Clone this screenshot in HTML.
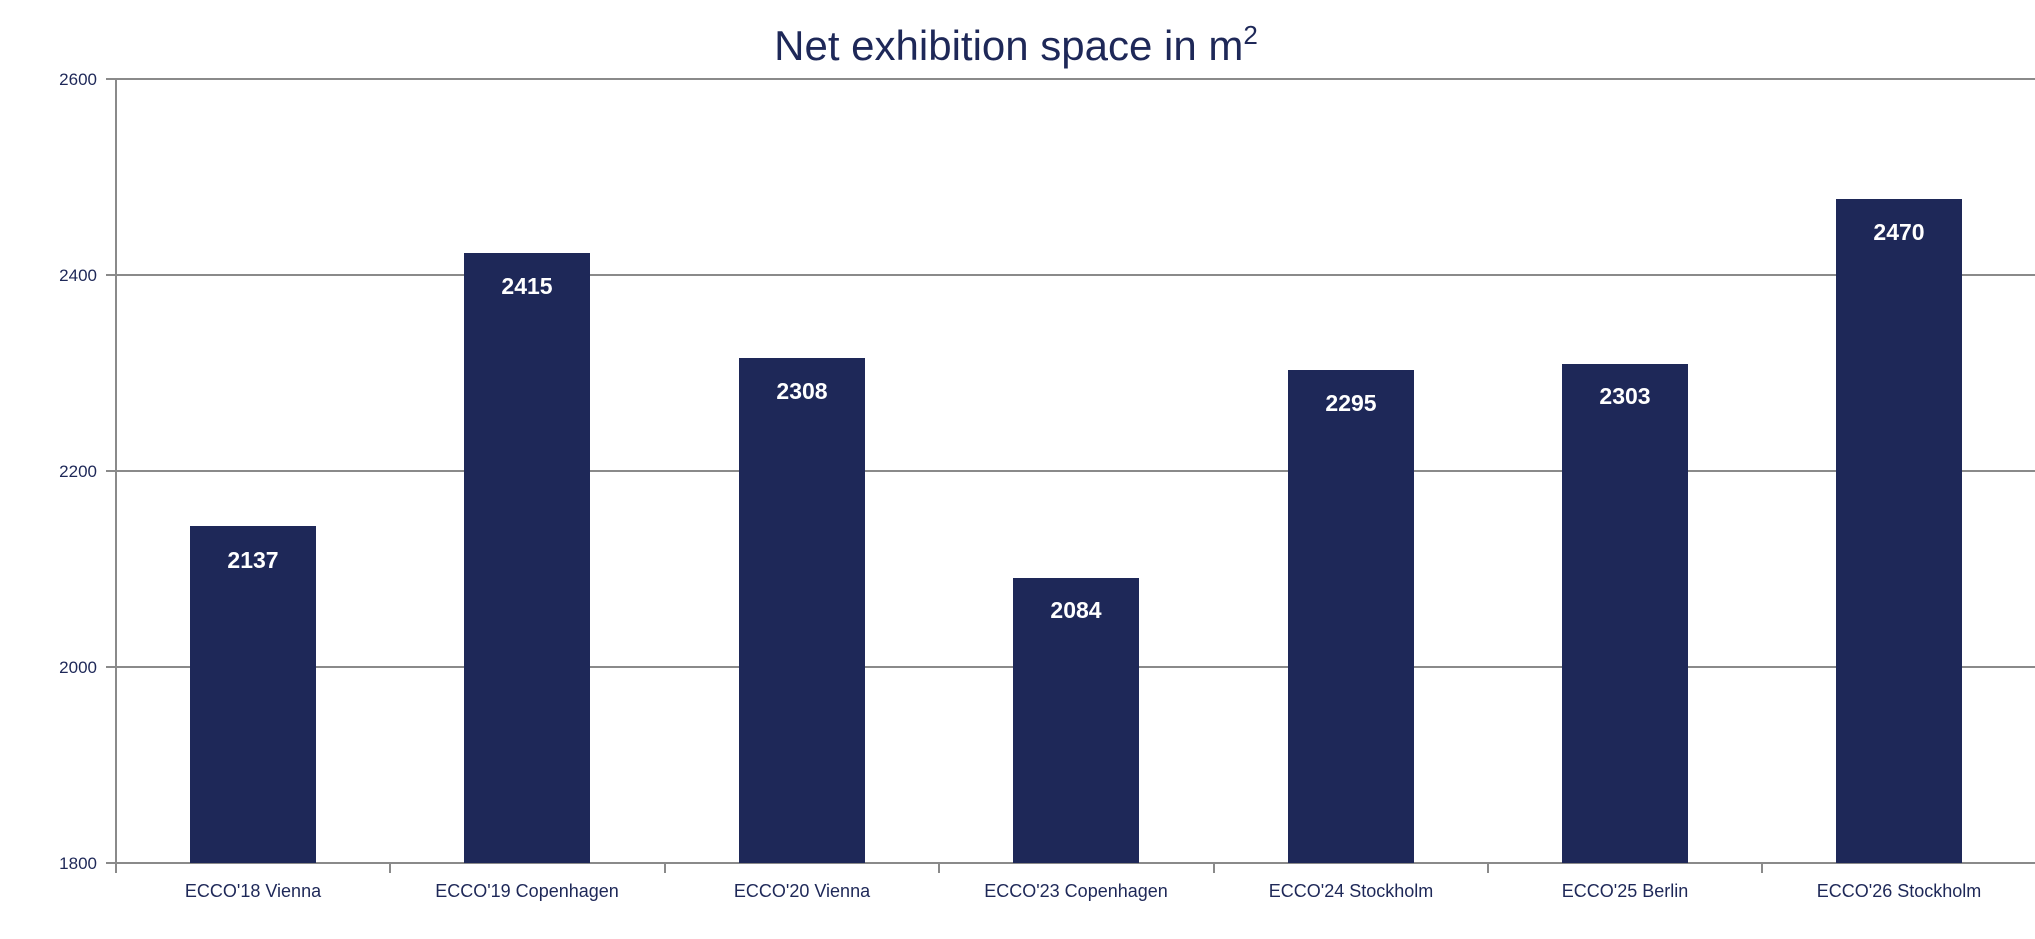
<!DOCTYPE html>
<html><head><meta charset="utf-8"><style>
html,body{margin:0;padding:0;background:#fff;}
svg{display:block;}
</style></head><body>
<svg width="2035" height="939" viewBox="0 0 2035 939" xmlns="http://www.w3.org/2000/svg" font-family="Liberation Sans, DejaVu Sans, sans-serif">
<rect width="2035" height="939" fill="#fff"/>
<text x="1016" y="60" text-anchor="middle" font-size="42" fill="#1e2858">Net exhibition space in m<tspan font-size="26" dy="-16">2</tspan></text>
<g stroke="#8a8a8a" stroke-width="2">
<line x1="106" y1="79" x2="2035" y2="79"/>
<line x1="106" y1="275" x2="2035" y2="275"/>
<line x1="106" y1="471" x2="2035" y2="471"/>
<line x1="106" y1="667" x2="2035" y2="667"/>
<line x1="106" y1="863" x2="2035" y2="863"/>
<line x1="116" y1="79" x2="116" y2="863"/>
<line x1="116" y1="863" x2="116" y2="873"/>
<line x1="390" y1="863" x2="390" y2="873"/>
<line x1="665" y1="863" x2="665" y2="873"/>
<line x1="939" y1="863" x2="939" y2="873"/>
<line x1="1214" y1="863" x2="1214" y2="873"/>
<line x1="1488" y1="863" x2="1488" y2="873"/>
<line x1="1762" y1="863" x2="1762" y2="873"/>
</g>
<g fill="#1e2858" font-size="17" text-anchor="end">
<text x="97" y="85">2600</text>
<text x="97" y="281">2400</text>
<text x="97" y="477">2200</text>
<text x="97" y="673">2000</text>
<text x="97" y="869">1800</text>
</g>
<g fill="#1e2858">
<rect x="190" y="526" width="126" height="337"/>
<rect x="464" y="253" width="126" height="610"/>
<rect x="739" y="358" width="126" height="505"/>
<rect x="1013" y="578" width="126" height="285"/>
<rect x="1288" y="370" width="126" height="493"/>
<rect x="1562" y="364" width="126" height="499"/>
<rect x="1836" y="199" width="126" height="664"/>
</g>
<g fill="#fff" font-size="23" font-weight="bold" text-anchor="middle">
<text x="253" y="568">2137</text>
<text x="527" y="294">2415</text>
<text x="802" y="399">2308</text>
<text x="1076" y="618">2084</text>
<text x="1351" y="411">2295</text>
<text x="1625" y="404">2303</text>
<text x="1899" y="240">2470</text>
</g>
<g fill="#1e2858" font-size="18" text-anchor="middle">
<text x="253" y="897">ECCO'18 Vienna</text>
<text x="527" y="897">ECCO'19 Copenhagen</text>
<text x="802" y="897">ECCO'20 Vienna</text>
<text x="1076" y="897">ECCO'23 Copenhagen</text>
<text x="1351" y="897">ECCO'24 Stockholm</text>
<text x="1625" y="897">ECCO'25 Berlin</text>
<text x="1899" y="897">ECCO'26 Stockholm</text>
</g>
</svg>
</body></html>
